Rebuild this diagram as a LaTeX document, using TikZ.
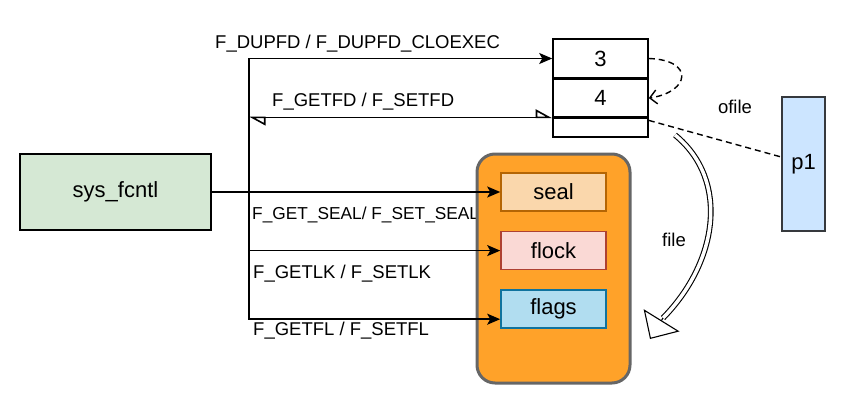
\documentclass[tikz,border=0pt]{standalone}
\usepackage{fontspec}
\setmainfont{Liberation Sans}
\usepackage{xcolor}
\usetikzlibrary{positioning, arrows.meta}

\definecolor{fcgreen}{HTML}{D5E8D4}
\definecolor{fcorange}{HTML}{FFA229}
\definecolor{fcgray}{HTML}{666666}
\definecolor{sealfill}{HTML}{FAD7AC}
\definecolor{sealdraw}{HTML}{B46504}
\definecolor{flockfill}{HTML}{FAD9D5}
\definecolor{flockdraw}{HTML}{AE4132}
\definecolor{flagsfill}{HTML}{B1DDF0}
\definecolor{flagsdraw}{HTML}{10739E}
\definecolor{pfill}{HTML}{CCE5FF}
\definecolor{pdraw}{HTML}{36393D}

\begin{document}
\begin{tikzpicture}[x=1pt,y=-1pt,>={Stealth[length=13pt,width=11pt,inset=3pt]},
    box/.style={draw, line width=1.6pt, inner sep=0pt, font=\fontsize{22}{25}\selectfont},
    lbl/.style={inner sep=0pt, font=\fontsize{18.5}{21}\selectfont},
    halfopen/.style={line width=1.6pt, {Triangle[open,left,length=15pt,width=16pt]}-{Triangle[open,left,length=15pt,width=16pt]}}]
        \useasboundingbox (0,0) rectangle (846,404);

        % Labels
        \node (ldup) [lbl, anchor=west] at (215,44) {F\_DUPFD / F\_DUPFD\_CLOEXEC};
        \node (lfd) [lbl, anchor=west] at (272,102) {F\_GETFD / F\_SETFD};
        \node (lseal) [lbl, anchor=west, font=\fontsize{17.3}{20}\selectfont] at (252,215) {F\_GET\_SEAL/ F\_SET\_SEAL};
        \node (llk) [lbl, anchor=west] at (253,274) {F\_GETLK / F\_SETLK};
        \node (lfl) [lbl, anchor=west] at (253,331) {F\_GETFL / F\_SETFL};
        \node (lofile) [lbl] at (735,107) {ofile};
        \node (lfile) [lbl] at (674,240) {file};

        % Nodes
        \node (sys) [box, fill=fcgreen, minimum width=191pt, minimum height=76pt] at (115.5,192) {sys\_fcntl};
        \node (fobj) [draw=fcgray, fill=fcorange, line width=3pt, rounded corners=18pt, minimum width=153pt, minimum height=229pt] at (553.5,268.5) {};
        \node (seal) [box, draw=sealdraw, fill=sealfill, minimum width=105pt, minimum height=38pt] at (553.5,192) {seal};
        \node (flock) [box, draw=flockdraw, fill=flockfill, below=19pt of seal, minimum width=105pt, minimum height=38pt] {flock};
        \node (flags) [box, draw=flagsdraw, fill=flagsfill, below=19pt of flock, minimum width=105pt, minimum height=38pt] {flags};

        \node (r3) [box, minimum width=95pt, minimum height=39pt] at (600.5,58.5) {3};
        \node (r4) [box, below=0pt of r3, minimum width=95pt, minimum height=37pt] {4};
        \node (r5) [box, below=0pt of r4, minimum width=95pt, minimum height=19pt] {};

        \node (p1) [box, draw=pdraw, fill=pfill, minimum width=43pt, minimum height=134pt] at (803.5,164) {p1};

        % Arrows
        \coordinate (bus) at (249,192);
        \draw[->, line width=1.6pt] (sys.east) -- (seal.west);
        \draw[->, line width=1.6pt] (bus) |- (r3.west);
        \draw[->, line width=1.6pt] (bus) |- (flock.west);
        \draw[->, line width=1.6pt] (bus) |- ([yshift=-10pt]flags.west);
        \draw[halfopen] (bus |- r4.south west) -- (r4.south west);

        \draw[dash pattern=on 6pt off 4pt, line width=1.4pt, -{Straight Barb[length=7pt,width=14pt]}] (r3.east) .. controls (695,60) and (690,92) .. (r4.east);
        \draw[dash pattern=on 6pt off 4pt, line width=1.4pt] ([yshift=-3pt]r5.north east) -- ([yshift=7pt]p1.west);

        \coordinate (fs) at (675,135);
        \coordinate (fb) at (663,318);
        \coordinate (fe) at (650,339);
        \draw[double, double distance=3.5pt, line width=1.1pt] (fs) .. controls (730,180) and (718,262) .. (fb);
        \draw[line width=1.1pt, -{Triangle[length=22pt,width=42pt,fill=white]}] (fb) -- (fe);

    \end{tikzpicture}
\end{document}
